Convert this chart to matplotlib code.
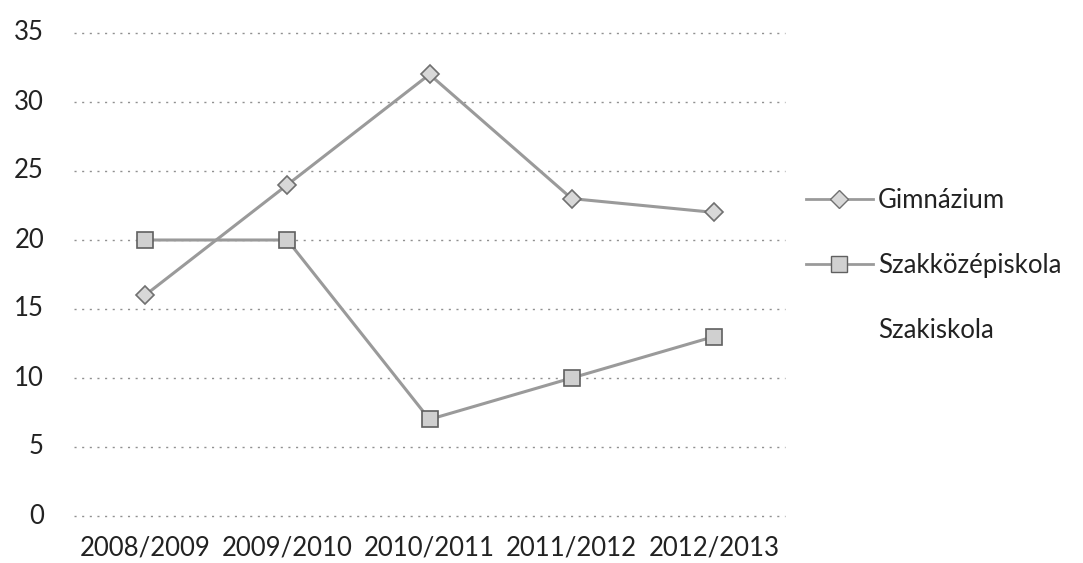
import matplotlib
matplotlib.use("Agg")
import matplotlib.pyplot as plt
from matplotlib.lines import Line2D
from matplotlib.transforms import blended_transform_factory

categories = ["2008/2009", "2009/2010", "2010/2011", "2011/2012", "2012/2013"]
gimnazium = [16, 24, 32, 23, 22]
szakkozep = [20, 20, 7, 10, 13]
series_names = ["Gimnázium", "Szakközépiskola", "Szakiskola"]
yticks = [0, 5, 10, 15, 20, 25, 30, 35]

plt.rcParams['font.family'] = ['Lato', 'DejaVu Sans']
FS = 18.5

fig = plt.figure(figsize=(10.83, 5.63), dpi=100)
ax = fig.add_axes([74/1083, 1-516/563, (785-74)/1083, (516-33)/563])

x = list(range(len(categories)))
ax.plot(x, gimnazium, color="#9a9a9a", lw=2.2, marker="D", ms=9,
        mfc="#d8d8d8", mec="#707070", mew=1.2, zorder=3)
ax.plot(x, szakkozep, color="#9a9a9a", lw=2.2, marker="s", ms=11,
        mfc="#d0d0d0", mec="#606060", mew=1.2, zorder=3)

ax.set_xlim(-0.5, len(categories) - 0.5)
ax.set_ylim(0, 35)
ax.set_yticks(yticks)
ax.set_yticklabels([])
ax.set_xticks(x)
ax.set_xticklabels(categories)
ax.yaxis.grid(True, linestyle=(0, (1.5, 4)), color="#909090", lw=1.0)
for gl in ax.get_ygridlines():
    gl.set_clip_on(False)
ax.set_axisbelow(True)
for s in ax.spines.values():
    s.set_visible(False)
ax.tick_params(length=0, labelsize=FS, colors="#222222")
ax.tick_params(axis='x', pad=14)

trans = blended_transform_factory(fig.transFigure, ax.transData)
for v in yticks:
    fig.text(44/1083, v, str(v), transform=trans, ha="right", va="center",
             fontsize=FS, color="#222222")

handles = [
    Line2D([0], [0], color="#9a9a9a", lw=2, marker="D", ms=9, mfc="#d8d8d8", mec="#707070"),
    Line2D([0], [0], color="#9a9a9a", lw=2, marker="s", ms=11, mfc="#d0d0d0", mec="#606060"),
    Line2D([0], [0], color="none", lw=0),
]
leg = fig.legend(handles, series_names, loc="upper left",
                 bbox_to_anchor=(806/1083, 1-188/563), frameon=False,
                 fontsize=FS, handlelength=2.6, handletextpad=0.2,
                 labelspacing=1.55, borderaxespad=0, borderpad=0)
for t in leg.get_texts():
    t.set_color("#222222")

fig.savefig("out.png", dpi=100)
